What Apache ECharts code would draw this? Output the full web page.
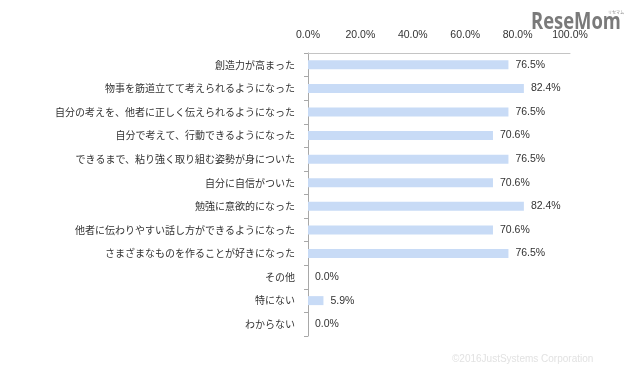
<!DOCTYPE html>
<html><head><meta charset="utf-8">
<script src="https://cdn.jsdelivr.net/npm/echarts@6/dist/echarts.min.js"></script>
<style>html,body{margin:0;padding:0;background:#fff}#c{width:640px;height:368px}</style>
</head><body><div id="c"></div>
<script>
const categories = [
  "創造力が高まった",
  "物事を筋道立てて考えられるようになった",
  "自分の考えを、他者に正しく伝えられるようになった",
  "自分で考えて、行動できるようになった",
  "できるまで、粘り強く取り組む姿勢が身についた",
  "自分に自信がついた",
  "勉強に意欲的になった",
  "他者に伝わりやすい話し方ができるようになった",
  "さまざまなものを作ることが好きになった",
  "その他",
  "特にない",
  "わからない"
];
const values = [76.5, 82.4, 76.5, 70.6, 76.5, 70.6, 82.4, 70.6, 76.5, 0.0, 5.9, 0.0];
const tickValues = [0, 20, 40, 60, 80, 100];

const chart = echarts.init(document.getElementById('c'), null, {renderer: 'canvas'});
chart.setOption({
  animation: false,
  backgroundColor: '#fff',
  grid: {left: 308, right: 70, top: 53, bottom: 32, containLabel: false},
  xAxis: {
    type: 'value', position: 'top', min: 0, max: 100, interval: 20,
    axisLine: {show: true, lineStyle: {color: '#c4c4c4', width: 1}},
    axisTick: {show: false},
    splitLine: {show: false},
    axisLabel: {
      margin: 12, color: '#333', fontSize: 10.5,
      fontFamily: 'Liberation Sans, Arial, sans-serif',
      formatter: v => tickValues.includes(v) ? v.toFixed(1) + '%' : ''
    }
  },
  yAxis: {
    type: 'category', data: categories, inverse: true,
    axisLine: {show: true, lineStyle: {color: '#a8a8a8', width: 1}},
    axisTick: {show: true, length: 4, lineStyle: {color: '#a8a8a8'}},
    axisLabel: {
      margin: 13, color: '#333', fontSize: 10,
      fontFamily: '"Noto Sans CJK JP", sans-serif'
    }
  },
  series: [{
    type: 'bar', data: values, barWidth: 9,
    itemStyle: {color: '#c8dbf6'},
    label: {
      show: true, position: 'right', distance: 7, color: '#333', fontSize: 10.5,
      fontFamily: 'Liberation Sans, Arial, sans-serif',
      formatter: p => p.value.toFixed(1) + '%'
    }
  }],
  graphic: [
    {type: 'text', x: 531, y: 11, scaleX: 0.8, scaleY: 1, z: 100,
     style: {text: 'ReseMom', fill: '#7a7a7a', font: 'bold 23px "Open Sans", "Liberation Sans", sans-serif'}},
    {type: 'text', x: 608, y: 10, z: 100, style: {text: 'リセマム', fill: '#888', font: '4px "Noto Sans CJK JP", sans-serif'}},
    {type: 'text', x: 452, y: 354, style: {text: '©2016JustSystems Corporation', fill: '#e2e2e2', font: '10px "Liberation Sans", Arial, sans-serif'}}
  ]
});
</script></body></html>
